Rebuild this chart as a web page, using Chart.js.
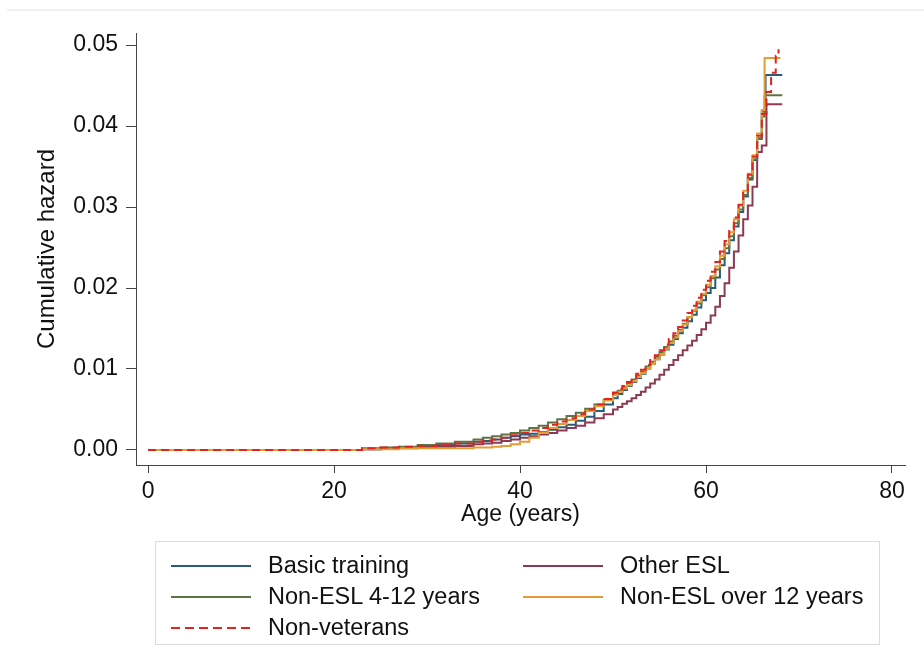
<!DOCTYPE html>
<html>
<head>
<meta charset="utf-8">
<script src="https://cdn.jsdelivr.net/npm/chart.js@4"></script>
<style>
  body { margin: 0; background: #fff; font-family: "Liberation Sans", Arial, sans-serif; }
  #wrap { position: relative; width: 924px; height: 668px; }
  #topline { position: absolute; left: 7px; right: 0; top: 9px; height: 2px; background: #f0f0f0; }
  #legend {
    position: absolute; left: 155px; top: 541px; width: 725px; height: 104px;
    border: 1px solid #dcdcdc; box-sizing: border-box;
    display: grid; grid-template-columns: 352px 1fr; grid-auto-rows: 31px;
    padding: 8px 0 0 15px; font-size: 23.5px; color: #111;
  }
  .item { display: flex; align-items: center; }
  .swatch { width: 80px; height: 2px; margin-right: 17px; }
</style>
</head>
<body>
<div id="wrap">
  <div id="topline"></div>
  <canvas id="chart" width="924" height="668"></canvas>
  <div id="legend"></div>
</div>
<script>
// Cumulative hazard by age

const seriesNames = ["Basic training", "Other ESL", "Non-ESL 4-12 years", "Non-ESL over 12 years", "Non-veterans"];
const xTicks = [0, 20, 40, 60, 80];
const yTicks = [0, 0.01, 0.02, 0.03, 0.04, 0.05];

const basicAge = [0, 23, 25, 27, 29, 31, 33, 35, 36, 37, 38, 39, 40, 41, 42, 43, 44, 45, 46, 47, 48, 49, 50, 50.5, 51, 51.5, 52, 52.5, 53, 53.5, 54, 54.5, 55, 55.5, 56, 56.5, 57, 57.5, 58, 58.5, 59, 59.5, 60, 60.5, 61, 61.5, 62, 62.5, 63, 63.5, 64, 64.5, 65, 65.5, 66, 66.4, 68.2];
const basicHaz = [0, 0.0001, 0.0002, 0.0003, 0.0004, 0.0006, 0.0008, 0.0010, 0.0011, 0.0013, 0.0015, 0.0017, 0.0019, 0.0020, 0.0022, 0.0025, 0.0028, 0.0031, 0.0036, 0.0041, 0.0048, 0.0056, 0.0064, 0.0069, 0.0074, 0.0079, 0.0084, 0.0089, 0.0094, 0.0100, 0.0106, 0.0112, 0.0118, 0.0124, 0.0130, 0.0137, 0.0144, 0.0151, 0.0159, 0.0167, 0.0176, 0.0185, 0.0194, 0.0200, 0.0213, 0.0228, 0.0243, 0.0259, 0.0276, 0.0294, 0.0313, 0.0334, 0.0358, 0.0385, 0.0418, 0.0463, 0.0463];

const otherAge = [0, 23, 25, 27, 29, 31, 33, 35, 36, 37, 38, 39, 40, 41, 42, 43, 44, 45, 46, 47, 48, 49, 50, 50.5, 51, 51.5, 52, 52.5, 53, 53.5, 54, 54.5, 55, 55.5, 56, 56.5, 57, 57.5, 58, 58.5, 59, 59.5, 60, 60.5, 61, 61.5, 62, 62.5, 63, 63.5, 64, 64.5, 65, 65.5, 66, 66.5, 68.2];
const otherHaz = [0, 0.0001, 0.0002, 0.0002, 0.0003, 0.0004, 0.0005, 0.0007, 0.0008, 0.0009, 0.0011, 0.0013, 0.0015, 0.0017, 0.0019, 0.0021, 0.0024, 0.0027, 0.0030, 0.0034, 0.0039, 0.0044, 0.0050, 0.0053, 0.0057, 0.0060, 0.0064, 0.0068, 0.0072, 0.0077, 0.0082, 0.0087, 0.0093, 0.0099, 0.0105, 0.0111, 0.0117, 0.0123, 0.0129, 0.0135, 0.0142, 0.0149, 0.0157, 0.0166, 0.0177, 0.0190, 0.0206, 0.0225, 0.0245, 0.0265, 0.0285, 0.0302, 0.0325, 0.0368, 0.0376, 0.0427, 0.0427];

const mid4Age = [0, 23, 25, 27, 29, 31, 33, 35, 36, 37, 38, 39, 40, 41, 42, 43, 44, 45, 46, 47, 48, 49, 50, 50.5, 51, 51.5, 52, 52.5, 53, 53.5, 54, 54.5, 55, 55.5, 56, 56.5, 57, 57.5, 58, 58.5, 59, 59.5, 60, 60.5, 61, 61.5, 62, 62.5, 63, 63.5, 64, 64.5, 65, 65.5, 66, 66.3, 68.2];
const mid4Haz = [0, 0.0002, 0.0003, 0.0004, 0.0006, 0.0008, 0.0010, 0.0013, 0.0015, 0.0017, 0.0019, 0.0021, 0.0024, 0.0027, 0.0030, 0.0034, 0.0038, 0.0042, 0.0046, 0.0051, 0.0056, 0.0062, 0.0069, 0.0073, 0.0077, 0.0082, 0.0087, 0.0092, 0.0097, 0.0103, 0.0109, 0.0115, 0.0121, 0.0127, 0.0134, 0.0141, 0.0148, 0.0156, 0.0164, 0.0172, 0.0181, 0.0191, 0.0201, 0.0212, 0.0223, 0.0236, 0.0249, 0.0264, 0.0280, 0.0297, 0.0315, 0.0336, 0.0359, 0.0384, 0.0412, 0.0438, 0.0438];

const over12Age = [0, 23, 25, 27, 29, 31, 33, 35, 36, 37, 38, 39, 40, 41, 42, 43, 44, 45, 46, 47, 48, 49, 50, 50.5, 51, 51.5, 52, 52.5, 53, 53.5, 54, 54.5, 55, 55.5, 56, 56.5, 57, 57.5, 58, 58.5, 59, 59.5, 60, 60.5, 61, 61.5, 62, 62.5, 63, 63.5, 64, 64.5, 65, 65.5, 66, 66.3, 68];
const over12Haz = [0, 0.0001, 0.0001, 0.0002, 0.0002, 0.0002, 0.0002, 0.0003, 0.0003, 0.0004, 0.0005, 0.0007, 0.0010, 0.0015, 0.0021, 0.0027, 0.0032, 0.0037, 0.0042, 0.0048, 0.0054, 0.0061, 0.0068, 0.0072, 0.0076, 0.0080, 0.0085, 0.0090, 0.0095, 0.0100, 0.0106, 0.0112, 0.0118, 0.0125, 0.0132, 0.0139, 0.0147, 0.0155, 0.0164, 0.0173, 0.0183, 0.0193, 0.0204, 0.0215, 0.0227, 0.0240, 0.0254, 0.0269, 0.0285, 0.0302, 0.0320, 0.0341, 0.0364, 0.0391, 0.0420, 0.0484, 0.0484];

const nonvetAge = [0, 23, 25, 27, 29, 31, 33, 35, 36, 37, 38, 39, 40, 41, 42, 43, 44, 45, 46, 47, 48, 49, 50, 50.5, 51, 51.5, 52, 52.5, 53, 53.5, 54, 54.5, 55, 55.5, 56, 56.5, 57, 57.5, 58, 58.5, 59, 59.5, 60, 60.5, 61, 61.5, 62, 62.5, 63, 63.5, 64, 64.5, 65, 65.5, 66, 66.5, 67, 67.5, 67.8];
const nonvetHaz = [0, 0.0002, 0.0003, 0.0004, 0.0005, 0.0006, 0.0008, 0.0010, 0.0012, 0.0013, 0.0015, 0.0018, 0.0021, 0.0024, 0.0027, 0.0031, 0.0035, 0.0039, 0.0044, 0.0050, 0.0056, 0.0063, 0.0071, 0.0075, 0.0079, 0.0084, 0.0089, 0.0094, 0.0099, 0.0105, 0.0111, 0.0117, 0.0123, 0.0130, 0.0137, 0.0144, 0.0152, 0.0160, 0.0169, 0.0178, 0.0188, 0.0198, 0.0209, 0.0220, 0.0232, 0.0245, 0.0258, 0.0272, 0.0287, 0.0303, 0.0320, 0.0340, 0.0362, 0.0388, 0.0415, 0.0442, 0.0466, 0.0487, 0.0495];

const colors = ["#2a5b7a", "#8c3a52", "#5d7544", "#e39d34", "#e2231e"];

function toPoints(ages, values) {
  return ages.map((a, i) => ({ x: a, y: values[i] }));
}

const allSeries = [
  toPoints(basicAge, basicHaz),
  toPoints(otherAge, otherHaz),
  toPoints(mid4Age, mid4Haz),
  toPoints(over12Age, over12Haz),
  toPoints(nonvetAge, nonvetHaz),
];

const font = "'Liberation Sans', Arial, sans-serif";
const axisColor = "#444";

new Chart(document.getElementById("chart"), {
  type: "line",
  data: {
    datasets: allSeries.map((pts, i) => ({
      label: seriesNames[i],
      data: pts,
      borderColor: colors[i],
      borderWidth: 2,
      borderDash: i === 4 ? [8, 5] : [],
      stepped: true,
      pointRadius: 0,
      fill: false,
      order: i === 4 ? 0 : 5 - i,
    })),
  },
  options: {
    responsive: false,
    animation: false,
    layout: { padding: { top: 33, left: 0, right: 19, bottom: 140 } },
    scales: {
      x: {
        type: "linear",
        min: -1.3,
        max: 81.4,
        afterBuildTicks: (s) => { s.ticks = xTicks.map((v) => ({ value: v })); },
        afterFit: (s) => { s.height = 63; },
        grid: { drawOnChartArea: false, tickLength: 8, color: axisColor },
        border: { color: axisColor, width: 1 },
        ticks: { color: "#111", padding: 5, font: { family: font, size: 23 } },
        title: { display: true, text: "Age (years)", color: "#111", padding: 0, font: { family: font, size: 23 } },
      },
      y: {
        min: -0.00186,
        max: 0.0515,
        afterBuildTicks: (s) => { s.ticks = yTicks.map((v) => ({ value: v })); },
        afterFit: (s) => { s.width = 136; },
        grid: { drawOnChartArea: false, tickLength: 10, color: axisColor },
        border: { color: axisColor, width: 1 },
        ticks: { color: "#111", padding: 8, font: { family: font, size: 23 }, callback: (v) => v.toFixed(2) },
        title: { display: true, text: "Cumulative hazard", color: "#111", padding: { top: 33, bottom: 0 }, font: { family: font, size: 24 } },
      },
    },
    plugins: {
      legend: { display: false },
      tooltip: { enabled: false },
    },
  },
});

// Legend drawn as HTML in two columns like the original
const legendEl = document.getElementById("legend");
seriesNames.forEach((name, i) => {
  const item = document.createElement("div");
  item.className = "item";
  const sw = document.createElement("span");
  sw.className = "swatch";
  if (i === 4) {
    sw.style.background = `repeating-linear-gradient(90deg, ${colors[i]} 0 9px, transparent 9px 14px)`;
  } else {
    sw.style.background = colors[i];
  }
  const label = document.createElement("span");
  label.textContent = name;
  item.appendChild(sw);
  item.appendChild(label);
  legendEl.appendChild(item);
});
</script>
</body>
</html>
